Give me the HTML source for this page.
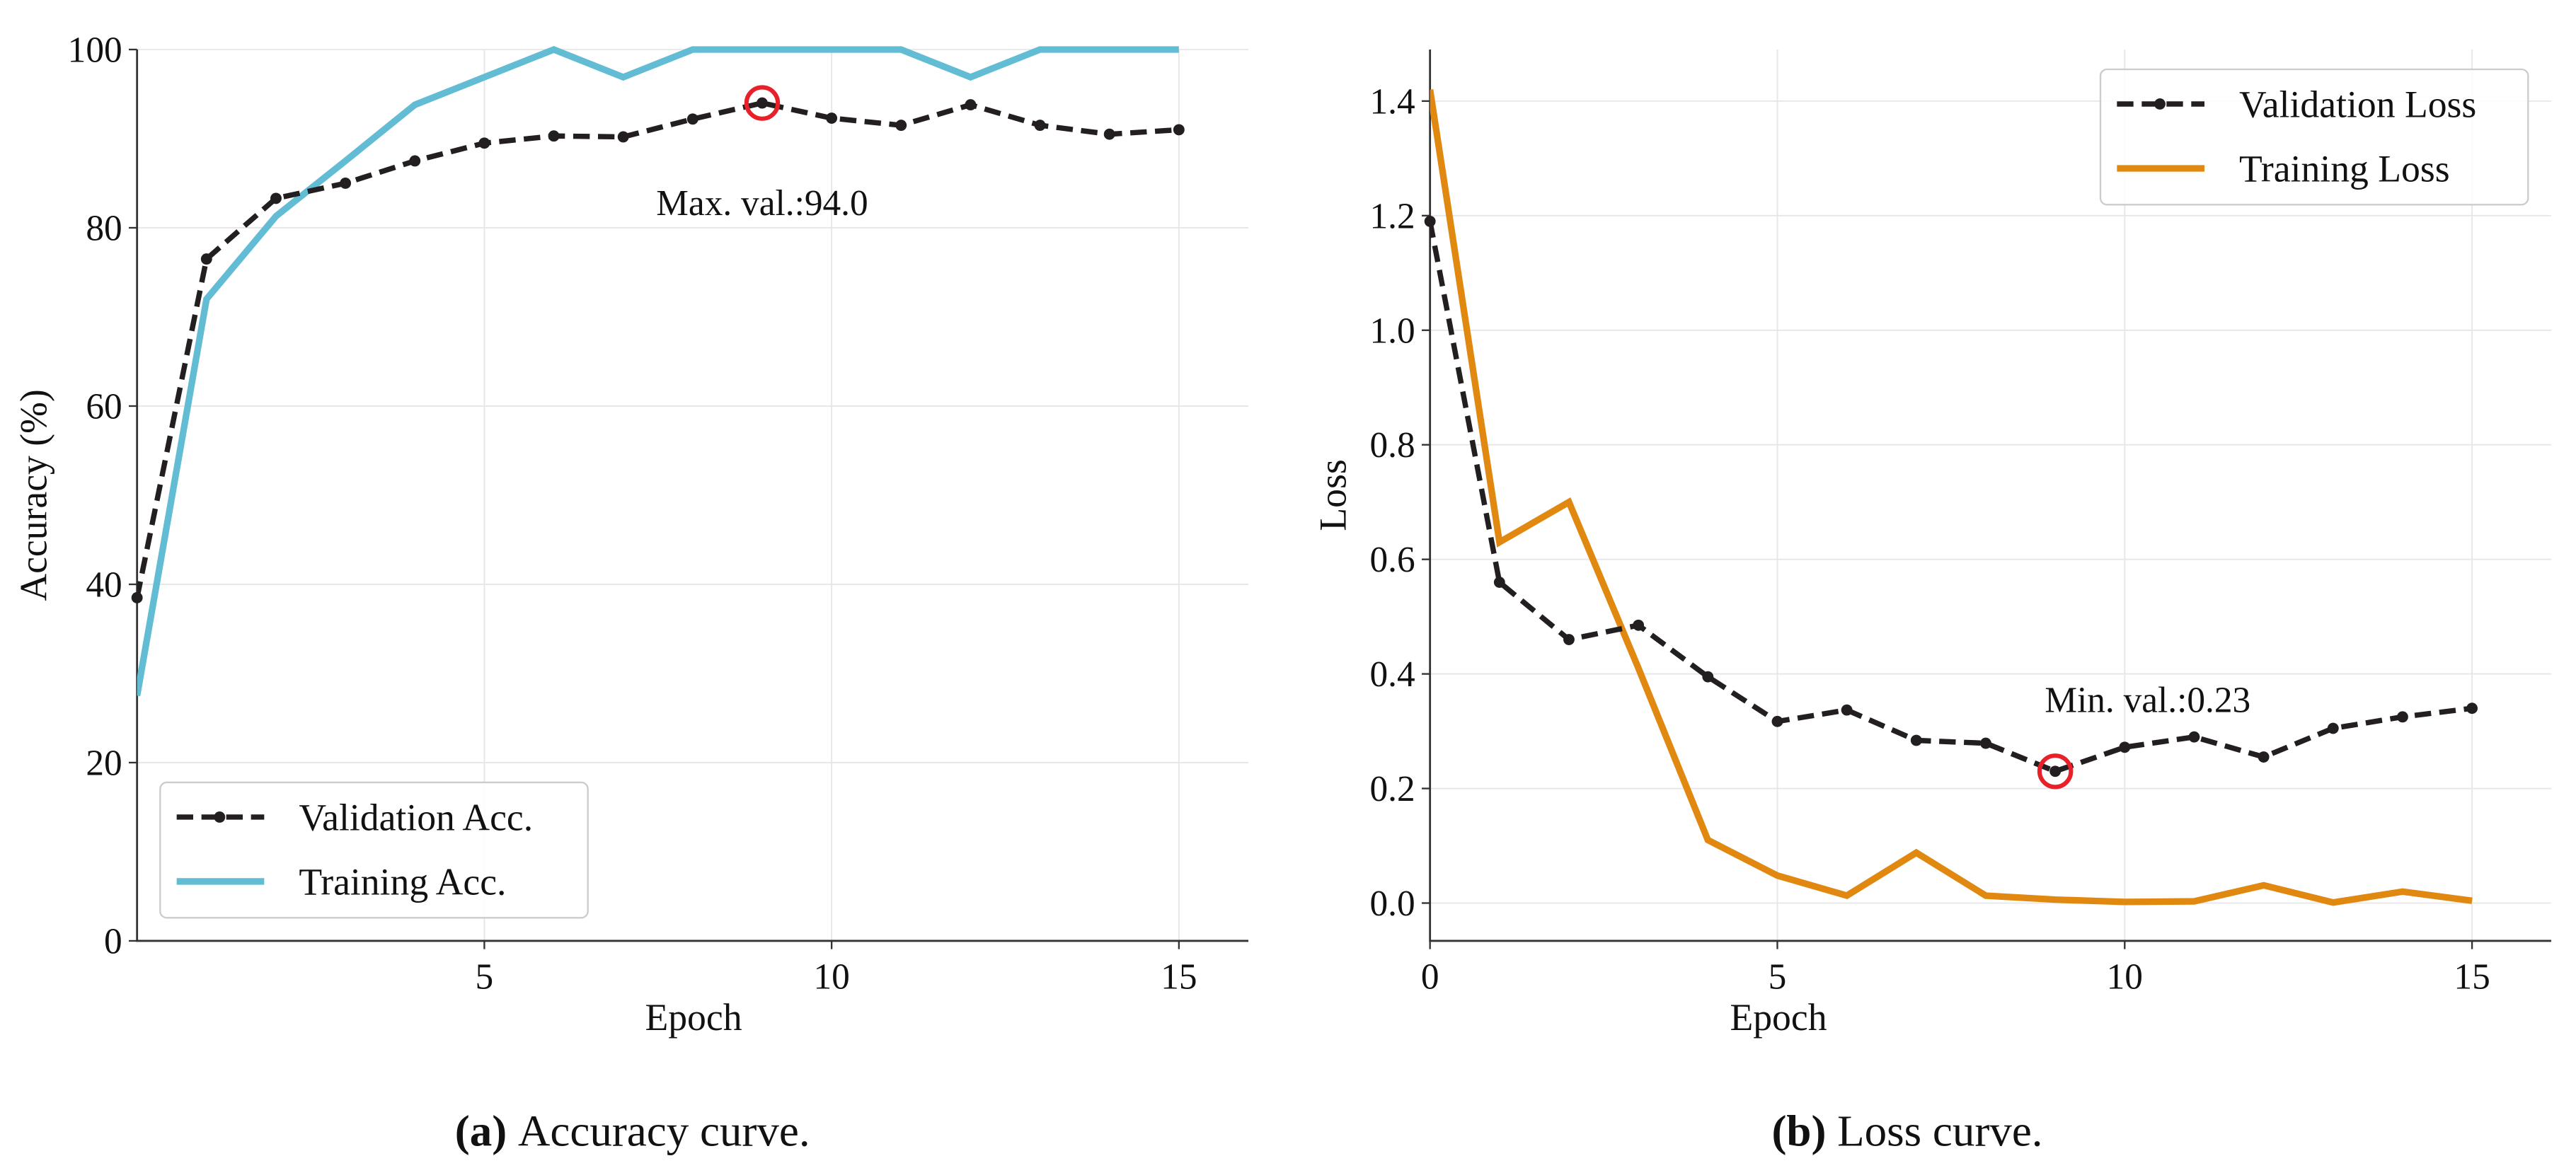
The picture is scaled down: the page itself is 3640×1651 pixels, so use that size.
<!DOCTYPE html>
<html><head><meta charset="utf-8"><style>
html,body{margin:0;padding:0;background:#fff;}
svg{display:block;font-family:"Liberation Serif",serif;}
</style></head><body>
<svg id="fig" width="3640" height="1651" viewBox="0 0 1560 707.6" preserveAspectRatio="none" xmlns="http://www.w3.org/2000/svg">
</svg>
<script>
const epochs = [0,1,2,3,4,5,6,7,8,9,10,11,12,13,14,15];
const valAcc = [38.5,76.5,83.3,85,87.5,89.5,90.3,90.2,92.2,94,92.3,91.5,93.8,91.5,90.5,91];
const trainAcc = [27.5,72,81.3,87.5,93.8,96.9,100,96.9,100,100,100,100,96.9,100,100,100];
const valLoss = [1.19,0.56,0.46,0.485,0.395,0.317,0.337,0.284,0.279,0.23,0.272,0.29,0.255,0.305,0.325,0.34];
const trainLoss = [1.42,0.63,0.70,0.41,0.11,0.048,0.013,0.088,0.013,0.006,0.002,0.003,0.031,0.001,0.02,0.004];
const xTicks = [5,10,15];
const accTicks = [0,20,40,60,80,100];
const lossTicks = [0,0.2,0.4,0.6,0.8,1.0,1.2,1.4];

const svg = document.getElementById('fig');
const NS = 'http://www.w3.org/2000/svg';
function el(tag, attrs, parent){
  const e = document.createElementNS(NS, tag);
  for (const k in attrs) e.setAttribute(k, attrs[k]);
  (parent||svg).appendChild(e);
  return e;
}
function txt(s, attrs, parent){ const t = el('text', attrs, parent); t.textContent = s; return t; }

function panel(cfg){
  const g = el('g', {});
  
  
  const L=cfg.L,R=cfg.R,T=30,B=570;
  const sx = v => L + (v - 0)/(cfg.xmax-0)*(R-L);
  const sy = v => B - (v - cfg.ymin)/(cfg.ymax-cfg.ymin)*(B-T);
  xTicks.forEach(v=>{ const l=el('line',{x1:sx(v),x2:sx(v),y1:T,y2:B,stroke:'#e6e6e6','stroke-width':0.8},g);
      });
  cfg.yTicks.forEach(v=>{ const l=el('line',{x1:L,x2:R,y1:sy(v),y2:sy(v),stroke:'#e6e6e6','stroke-width':0.8},g);
      });
  const ax = el('path',{d:`M${L} ${T} V${B} H${R}`,fill:'none',stroke:'#333','stroke-width':1.2},g);
   
  cfg.xLabels.forEach(v=>{
    el('line',{x1:sx(v),x2:sx(v),y1:B,y2:B+5,stroke:'#333','stroke-width':1},g);
    const t=txt(String(v),{x:sx(v),y:B+29,'text-anchor':'middle','font-size':22,fill:'#111'},g);
     
  });
  cfg.yTicks.forEach(v=>{
    el('line',{x1:L-5,x2:L,y1:sy(v),y2:sy(v),stroke:'#333','stroke-width':1},g);
    const t=txt(cfg.fmt(v),{x:L-9,y:sy(v)+7.5,'text-anchor':'end','font-size':22,fill:'#111'},g);
     
  });
  const xt=txt('Epoch',{x:cfg.xtx,y:624,'text-anchor':'middle','font-size':23,fill:'#111'},g);
   
  const yt=txt(cfg.ylabel,{x:0,y:0,'text-anchor':'middle','font-size':23,fill:'#111',transform:`translate(${cfg.ylx},300) rotate(-90)`},g);
   
  const cp = el('clipPath',{id:'clip'+cfg.name},g);
  el('rect',{x:L,y:T-3,width:R-L,height:B-T+6},cp);
  const pts = arr => arr.map((v,i)=>`${sx(epochs[i])},${sy(v)}`).join(' ');
  const tr = el('polyline',{points:pts(cfg.train),fill:'none',stroke:cfg.tcolor,'stroke-width':4,'stroke-linejoin':'miter','clip-path':`url(#clip${cfg.name})`},g);
   
  const vl = el('polyline',{points:pts(cfg.val),fill:'none',stroke:'#231f20','stroke-width':3.2,'stroke-dasharray':'10 5','clip-path':`url(#clip${cfg.name})`},g);
   
  cfg.val.forEach((v,i)=>{ const c=el('circle',{cx:sx(epochs[i]),cy:sy(v),r:3.4,fill:'#231f20'},g);
      });
  const bi = cfg.bestIdx;
  const m=el('circle',{cx:sx(epochs[bi]),cy:sy(cfg.val[bi]),r:9.5,fill:'none',stroke:'#e8202a','stroke-width':2.6},g);
   
  const at=txt(cfg.annot,{x:sx(epochs[bi])+cfg.adx,y:sy(cfg.val[bi])+cfg.ady,'text-anchor':'middle','font-size':22,fill:'#111'},g);
   
  const lg=el('g',{},g);
   
  el('rect',{x:cfg.lx,y:cfg.ly,width:259,height:82,rx:4,fill:'#fff','fill-opacity':0.85,stroke:'#ccc','stroke-width':1},lg);
  const e1=el('g',{},lg);  
  el('line',{x1:cfg.lx+10,x2:cfg.lx+63,y1:cfg.ly+21,y2:cfg.ly+21,stroke:'#231f20','stroke-width':3.2,'stroke-dasharray':'10 5'},e1);
  el('circle',{cx:cfg.lx+36,cy:cfg.ly+21,r:3.4,fill:'#231f20'},e1);
  txt(cfg.vname,{x:cfg.lx+84,y:cfg.ly+29,'font-size':23,fill:'#111'},e1);
  const e2=el('g',{},lg);  
  el('line',{x1:cfg.lx+10,x2:cfg.lx+63,y1:cfg.ly+60,y2:cfg.ly+60,stroke:cfg.tcolor,'stroke-width':4},e2);
  txt(cfg.tname,{x:cfg.lx+84,y:cfg.ly+68,'font-size':23,fill:'#111'},e2);
  const cap=txt('',{x:cfg.capx,y:694,'text-anchor':'middle','font-size':27,fill:'#111'},g);
   
  const b=document.createElementNS(NS,'tspan'); b.setAttribute('font-weight','bold'); b.textContent=cfg.capb+' ';
  cap.appendChild(b);
  const r=document.createElementNS(NS,'tspan'); r.textContent=cfg.capt; cap.appendChild(r);
}
panel({name:'accuracy-panel',L:83,R:756,xmax:16,ymin:0,ymax:100,yTicks:accTicks,xLabels:xTicks,fmt:v=>String(v),xtx:420,
  ylabel:'Accuracy (%)',ylx:28,train:trainAcc,val:valAcc,tcolor:'#62bcd3',bestIdx:9,annot:'Max. val.:94.0',adx:0,ady:68,
  lx:97,ly:474,vname:'Validation Acc.',tname:'Training Acc.',capx:383,capb:'(a)',capt:'Accuracy curve.'});
panel({name:'loss-panel',L:866,R:1545,xmax:16.14,ymin:-0.066,ymax:1.49,yTicks:lossTicks,xLabels:[0,5,10,15],fmt:v=>v.toFixed(1),xtx:1077,
  ylabel:'Loss',ylx:815,train:trainLoss,val:valLoss,tcolor:'#e0880f',bestIdx:9,annot:'Min. val.:0.23',adx:56,ady:-36,
  lx:1272,ly:42,vname:'Validation Loss',tname:'Training Loss',capx:1155,capb:'(b)',capt:'Loss curve.'});
</script>
</body></html>
